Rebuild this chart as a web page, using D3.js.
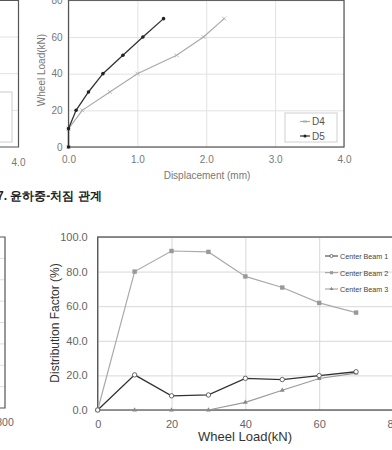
<!DOCTYPE html>
<html>
<head>
<meta charset="utf-8">
<script src="https://cdn.jsdelivr.net/npm/d3@7"></script>
<style>
  body { margin: 0; background: #fff; }
  text { font-family: "Liberation Sans", Arial, sans-serif; }
</style>
</head>
<body>
<svg width="392" height="450"></svg>
<script>
// load - displacement data (top chart)
const loadSteps = [0, 10, 20, 30, 40, 50, 60, 70];
const dispD4 = [0, 0, 0.2, 0.6, 1.0, 1.57, 1.96, 2.26];
const dispD5 = [0, 0, 0.11, 0.29, 0.5, 0.79, 1.08, 1.38];
const dispTicks = [0, 1, 2, 3, 4];
const loadTicks = [0, 20, 40, 60, 80];

// distribution factor data (bottom chart)
const wheelLoads = [0, 10, 20, 30, 40, 50, 60, 70];
const beam1 = [0, 20.3, 8.2, 8.7, 18.3, 17.6, 19.9, 22.1];
const beam2 = [0, 80, 91.9, 91.4, 77.2, 70.8, 61.9, 56.3];
const beam3 = [0, 0, 0, 0, 4.4, 11.4, 18.2, 21.3];
const wheelTicks = [0, 20, 40, 60, 80];
const factorTicks = [0, 20, 40, 60, 80, 100];

var svg = d3.select("svg");
svg.append("rect").attr("width", 392).attr("height", 450).attr("fill", "#fff");

// ---- partial chart, top left (cut off by the crop)
var xl = d3.scaleLinear().domain([0, 4]).range([-258, 18.5]);
var yl = d3.scaleLinear().domain([0, 80]).range([147, 0.3]);
var gl = svg.append("g");
gl.selectAll("line.grid").data([20, 40, 60]).enter().append("line")
    .attr("x1", 0).attr("x2", xl(4))
    .attr("y1", d => yl(d)).attr("y2", d => yl(d))
    .attr("stroke", "#e2e2e2");
gl.append("rect").attr("x", -20).attr("y", 92).attr("width", 32).attr("height", 50)
    .attr("fill", "#fff").attr("stroke", "#ccc");
gl.append("path")
    .attr("d", `M${xl(0)},${yl(80)}H${xl(4)}V${yl(0)}H${xl(0)}`)
    .attr("fill", "none").attr("stroke", "#555").attr("stroke-width", 1.2);
gl.append("text").attr("x", xl(4)).attr("y", 166).attr("text-anchor", "middle")
    .attr("font-size", 10).attr("fill", "#777").text("4.0");

// ---- top right: wheel load vs displacement
var x = d3.scaleLinear().domain([0, 4]).range([68.5, 344]);
var y = d3.scaleLinear().domain([0, 80]).range([147, 0.3]);
var g = svg.append("g");

g.append("g").attr("transform", "translate(0," + y(0) + ")")
    .call(d3.axisBottom(x).tickValues(dispTicks).tickSize(-(y(0) - y(80))).tickPadding(9).tickFormat(d3.format(".1f")))
    .call(a => a.select(".domain").remove())
    .call(a => a.selectAll("line").attr("stroke", "#e2e2e2"))
    .call(a => a.selectAll("text").attr("font-size", 10).attr("fill", "#777").attr("font-family", null));
g.append("g").attr("transform", "translate(" + x(0) + ",0)")
    .call(d3.axisLeft(y).tickValues(loadTicks).tickSize(-(x(4) - x(0))).tickPadding(6))
    .call(a => a.select(".domain").remove())
    .call(a => a.selectAll("line").attr("stroke", "#e2e2e2"))
    .call(a => a.selectAll("text").attr("font-size", 10).attr("fill", "#777").attr("font-family", null));

g.append("rect").attr("x", x(0)).attr("y", y(80)).attr("width", x(4) - x(0)).attr("height", y(0) - y(80))
    .attr("fill", "none").attr("stroke", "#555").attr("stroke-width", 1.2);

var lineD = d3.line().x(d => x(d[0])).y(d => y(d[1]));
var d4 = dispD4.map((v, i) => [v, loadSteps[i]]);
var d5 = dispD5.map((v, i) => [v, loadSteps[i]]);

g.append("path").attr("d", lineD(d4)).attr("fill", "none").attr("stroke", "#aaa").attr("stroke-width", 1.2);
g.selectAll("path.m4").data(d4).enter().append("path")
    .attr("d", d => `M${x(d[0]) - 2},${y(d[1]) - 2}l4,4M${x(d[0]) + 2},${y(d[1]) - 2}l-4,4`)
    .attr("stroke", "#aaa").attr("stroke-width", 0.8);
g.append("path").attr("d", lineD(d5)).attr("fill", "none").attr("stroke", "#333").attr("stroke-width", 1.3);
g.selectAll("circle.m5").data(d5).enter().append("circle")
    .attr("cx", d => x(d[0])).attr("cy", d => y(d[1])).attr("r", 1.8).attr("fill", "#222");

// legend
var lg = g.append("g");
lg.append("rect").attr("x", 285).attr("y", 113).attr("width", 52).attr("height", 29)
    .attr("fill", "#fff").attr("stroke", "#d0d0d0");
[["D4", "#aaa", 121.5], ["D5", "#333", 136]].forEach(function (it, i) {
    lg.append("line").attr("x1", 300).attr("x2", 310).attr("y1", it[2]).attr("y2", it[2])
        .attr("stroke", it[1]).attr("stroke-width", 1.2);
    if (i == 0) {
        lg.append("path").attr("d", `M303.5,${it[2] - 1.5}l3,3M306.5,${it[2] - 1.5}l-3,3`).attr("stroke", it[1]).attr("stroke-width", 0.8);
    } else {
        lg.append("circle").attr("cx", 305).attr("cy", it[2]).attr("r", 1.6).attr("fill", "#222");
    }
    lg.append("text").attr("x", 312).attr("y", it[2] + 3.5).attr("font-size", 10).attr("fill", "#555").text(it[0]);
});

g.append("text").attr("transform", "translate(45,70) rotate(-90)").attr("text-anchor", "middle")
    .attr("font-size", 10).attr("fill", "#777").text("Wheel Load(kN)");
g.append("text").attr("x", 207).attr("y", 179).attr("text-anchor", "middle")
    .attr("font-size", 10).attr("fill", "#777").text("Displacement (mm)");

// caption (figure number cut at the left edge, as in the scan)
svg.append("text").attr("x", -3).attr("y", 200)
    .attr("font-family", "'Noto Sans CJK KR', sans-serif").attr("font-weight", "bold")
    .attr("font-size", 12).attr("fill", "#222").text("7. 윤하중-처짐 관계");

// ---- partial chart, bottom left
var xb = d3.scaleLinear().domain([0, 800]).range([-280, 5]);
var yb = d3.scaleLinear().domain([0, 8]).range([408, 237]);
var gb = svg.append("g");
gb.selectAll("line").data([1, 2, 3, 4, 5, 6, 7]).enter().append("line")
    .attr("x1", 0).attr("x2", xb(800))
    .attr("y1", d => yb(d)).attr("y2", d => yb(d))
    .attr("stroke", "#e0e0e0");
gb.append("path")
    .attr("d", `M${xb(0)},${yb(8)}H${xb(800)}V${yb(0)}H${xb(0)}`)
    .attr("fill", "none").attr("stroke", "#555").attr("stroke-width", 1.2);
gb.append("text").attr("x", xb(800)).attr("y", 426).attr("text-anchor", "middle")
    .attr("font-size", 10.5).attr("fill", "#666").text("800");

// ---- bottom right: distribution factor
var x2 = d3.scaleLinear().domain([0, 80]).range([97.7, 393]);
var y2 = d3.scaleLinear().domain([0, 100]).range([410, 237]);
var g2 = svg.append("g");

g2.append("g").attr("transform", "translate(0," + y2(0) + ")")
    .call(d3.axisBottom(x2).tickValues(wheelTicks).tickSize(-(y2(0) - y2(100))).tickPadding(10))
    .call(a => a.select(".domain").remove())
    .call(a => a.selectAll("line").attr("stroke", "#d8d8d8"))
    .call(a => a.selectAll("text").attr("font-size", 11).attr("fill", "#666").attr("font-family", null));
g2.append("g").attr("transform", "translate(" + x2(0) + ",0)")
    .call(d3.axisLeft(y2).tickValues(factorTicks).tickSize(-(x2(80) - x2(0))).tickPadding(10).tickFormat(d3.format(".1f")))
    .call(a => a.select(".domain").remove())
    .call(a => a.selectAll("line").attr("stroke", "#d8d8d8"))
    .call(a => a.selectAll("text").attr("font-size", 11).attr("fill", "#666").attr("font-family", null));

g2.append("rect").attr("x", x2(0)).attr("y", y2(100)).attr("width", x2(80) - x2(0)).attr("height", y2(0) - y2(100))
    .attr("fill", "none").attr("stroke", "#555").attr("stroke-width", 1.3);

var line2 = d3.line().x((d, i) => x2(wheelLoads[i])).y(d => y2(d));

// beam 3 (triangles)
g2.append("path").attr("d", line2(beam3)).attr("fill", "none").attr("stroke", "#999").attr("stroke-width", 1.1);
g2.selectAll("path.t3").data(beam3).enter().append("path")
    .attr("d", d3.symbol(d3.symbolTriangle, 10))
    .attr("transform", (d, i) => `translate(${x2(wheelLoads[i])},${y2(d)})`)
    .attr("fill", "#888");
// beam 2 (squares)
g2.append("path").attr("d", line2(beam2)).attr("fill", "none").attr("stroke", "#aaa").attr("stroke-width", 1.2);
g2.selectAll("rect.s2").data(beam2).enter().append("rect")
    .attr("x", (d, i) => x2(wheelLoads[i]) - 2.2).attr("y", d => y2(d) - 2.2)
    .attr("width", 4.4).attr("height", 4.4).attr("fill", "#999");
// beam 1 (open circles)
g2.append("path").attr("d", line2(beam1)).attr("fill", "none").attr("stroke", "#333").attr("stroke-width", 1.3);
g2.selectAll("circle.c1").data(beam1).enter().append("circle")
    .attr("cx", (d, i) => x2(wheelLoads[i])).attr("cy", d => y2(d)).attr("r", 2.2)
    .attr("fill", "#fff").attr("stroke", "#444").attr("stroke-width", 0.8);

// legend
var lg2 = g2.append("g");
[["Center Beam 1", 256], ["Center Beam 2", 272.7], ["Center Beam 3", 289]].forEach(function (it, i) {
    var c = i == 0 ? "#333" : "#999";
    lg2.append("line").attr("x1", 325).attr("x2", 338).attr("y1", it[1]).attr("y2", it[1])
        .attr("stroke", c).attr("stroke-width", 1);
    if (i == 0) {
        lg2.append("circle").attr("cx", 331.5).attr("cy", it[1]).attr("r", 1.6)
            .attr("fill", "#fff").attr("stroke", "#444").attr("stroke-width", 0.7);
    } else if (i == 1) {
        lg2.append("rect").attr("x", 330).attr("y", it[1] - 1.5).attr("width", 3).attr("height", 3).attr("fill", "#999");
    } else {
        lg2.append("path").attr("d", d3.symbol(d3.symbolTriangle, 6))
            .attr("transform", `translate(331.5,${it[1]})`).attr("fill", "#888");
    }
    lg2.append("text").attr("x", 340).attr("y", it[1] + 2.8).attr("font-size", 7.2)
        .attr("fill", "#444").text(it[0]);
});

g2.append("text").attr("transform", "translate(59,323) rotate(-90)").attr("text-anchor", "middle")
    .attr("font-size", 12).attr("fill", "#333").text("Distribution Factor (%)");
g2.append("text").attr("x", 245).attr("y", 441).attr("text-anchor", "middle")
    .attr("font-size", 13).attr("fill", "#333").text("Wheel Load(kN)");
</script>
</body>
</html>
